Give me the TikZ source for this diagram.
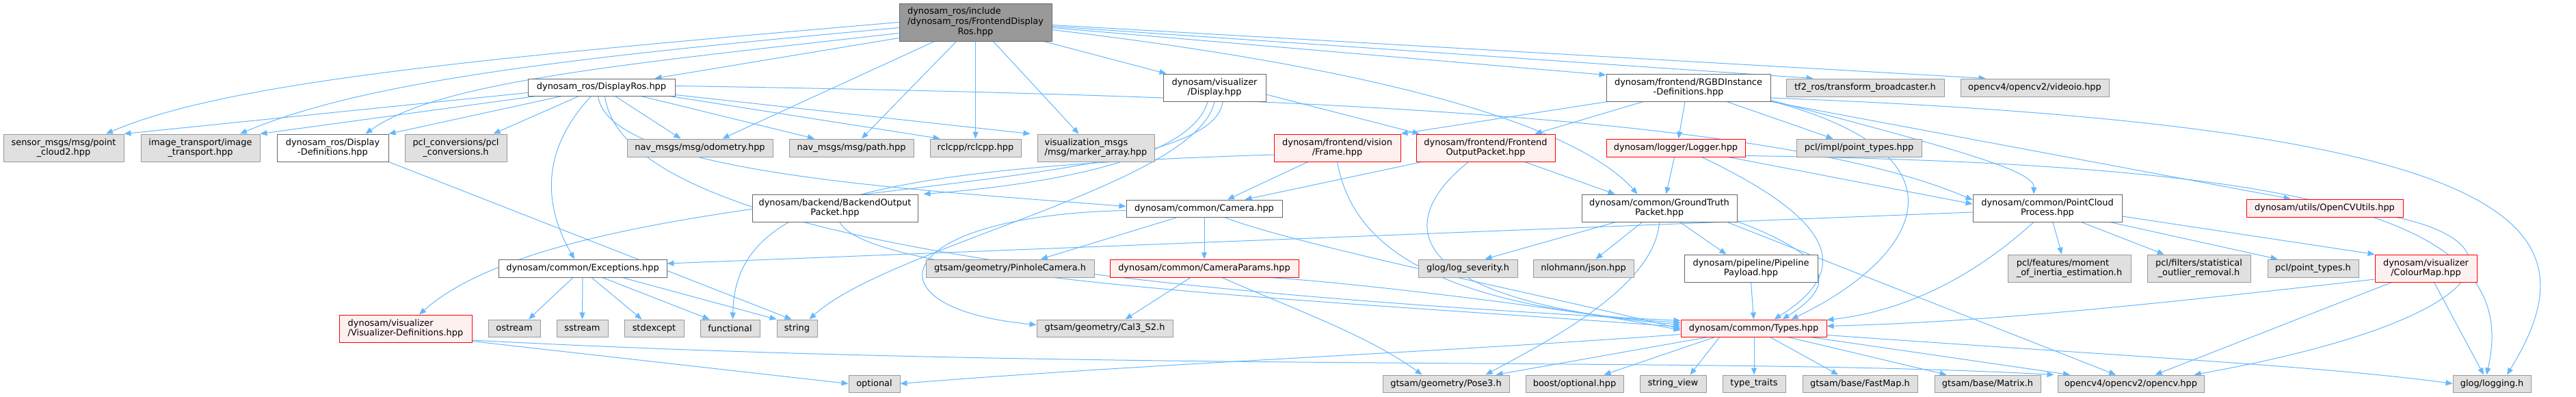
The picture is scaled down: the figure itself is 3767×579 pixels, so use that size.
\documentclass[tikz,border=0pt]{standalone}
\usepackage{fontspec}
\setmainfont{DejaVu Sans}
\usepackage{tikz}
\usetikzlibrary{arrows.meta,calc,backgrounds}
\definecolor{edgeblue}{HTML}{63B8FF}
\definecolor{sysfill}{HTML}{E0E0E0}
\definecolor{sysline}{HTML}{999999}
\definecolor{fileline}{HTML}{666666}
\definecolor{partfill}{HTML}{FFF0F0}
\definecolor{rootfill}{HTML}{999999}
\tikzset{
  filebox/.style={draw=fileline,fill=white,line width=0.75pt,inner sep=0pt,
    align=center,font=\fontsize{9.7}{11}\selectfont},
  sysbox/.style={filebox,draw=sysline,fill=sysfill},
  redbox/.style={filebox,draw=red,fill=partfill},
  topbox/.style={filebox,draw=fileline,fill=rootfill},
  sz/.style 2 args={minimum width=#1*0.75pt,minimum height=#2*0.75pt},
  dep/.style={draw=edgeblue,line width=0.75pt,-{Triangle[length=7.5pt,width=6pt]}}
}
\begin{document}
\begin{tikzpicture}[x=0.75pt,y=-0.75pt]
\useasboundingbox (0,0) rectangle (3767,579);
% row 1
\node[topbox,sz={223}{55}] (root) at (1426.5,32.5) {\begin{tabular}{@{}l@{}}dynosam\_ros/include\\/dynosam\_ros/FrontendDisplay\\\multicolumn{1}{@{}c@{}}{Ros.hpp}\end{tabular}};
% row 2
\node[filebox,sz={215}{25}] (dispros) at (879.5,127.5) {dynosam\_ros/DisplayRos.hpp};
\node[filebox,sz={150}{40}] (display) at (1776,128) {dynosam/visualizer\\/Display.hpp};
\node[filebox,sz={240}{40}] (rgbd) at (2469,128) {dynosam/frontend/RGBDInstance\\-Definitions.hpp};
\node[sysbox,sz={231}{26}] (tftwo) at (2727.5,128) {tf2\_ros/transform\_broadcaster.h};
\node[sysbox,sz={217}{26}] (videoio) at (2975.5,128) {opencv4/opencv2/videoio.hpp};
% row 3
\node[sysbox,sz={176}{40}] (sensor) at (93,216) {sensor\_msgs/msg/point\\\_cloud2.hpp};
\node[sysbox,sz={174}{40}] (imgtr) at (293,216) {image\_transport/image\\\_transport.hpp};
\node[filebox,sz={163}{40}] (dispdefs) at (486.5,216) {dynosam\_ros/Display\\-Definitions.hpp};
\node[sysbox,sz={149}{40}] (pclconv) at (666.5,216) {pcl\_conversions/pcl\\\_conversions.h};
\node[sysbox,sz={213}{26}] (odom) at (1023.5,216) {nav\_msgs/msg/odometry.hpp};
\node[sysbox,sz={182}{26}] (navpath) at (1245,216) {nav\_msgs/msg/path.hpp};
\node[sysbox,sz={133}{26}] (rclcpp) at (1426.5,216) {rclcpp/rclcpp.hpp};
\node[sysbox,sz={171}{40},align=left] (marker) at (1602.5,216) {visualization\_msgs\\/msg/marker\_array.hpp};
\node[redbox,sz={185}{40}] (frame) at (1955.5,216) {dynosam/frontend/vision\\/Frame.hpp};
\node[redbox,sz={203}{40}] (feout) at (2172.5,216) {dynosam/frontend/Frontend\\OutputPacket.hpp};
\node[redbox,sz={203}{26}] (logger) at (2450.5,216) {dynosam/logger/Logger.hpp};
\node[sysbox,sz={183}{26}] (pclimpl) at (2718.5,216) {pcl/impl/point\_types.hpp};
% row 4
\node[filebox,sz={242}{40}] (beout) at (1221,304) {dynosam/backend/BackendOutput\\Packet.hpp};
\node[filebox,sz={228}{25}] (camera) at (1761,304.5) {dynosam/common/Camera.hpp};
\node[filebox,sz={227}{40}] (gtpkt) at (2426.5,304) {dynosam/common/GroundTruth\\Packet.hpp};
\node[filebox,sz={218}{40}] (pcproc) at (2994,304) {dynosam/common/PointCloud\\Process.hpp};
\node[redbox,sz={229}{26}] (cvutils) at (3399.5,304) {dynosam/utils/OpenCVUtils.hpp};
% row 5
\node[filebox,sz={246}{26}] (except) at (852,392) {dynosam/common/Exceptions.hpp};
\node[sysbox,sz={246}{26}] (pinhole) at (1477,392) {gtsam/geometry/PinholeCamera.h};
\node[redbox,sz={276}{26}] (camparams) at (1761,392) {dynosam/common/CameraParams.hpp};
\node[sysbox,sz={145}{26}] (logsev) at (2146.5,392) {glog/log\_severity.h};
\node[sysbox,sz={147}{26}] (json) at (2315.5,392) {nlohmann/json.hpp};
\node[filebox,sz={195}{40}] (pipeline) at (2560.5,392) {dynosam/pipeline/Pipeline\\Payload.hpp};
\node[sysbox,sz={180}{40},align=left] (moment) at (3026,392) {pcl/features/moment\\\_of\_inertia\_estimation.h};
\node[sysbox,sz={151}{40}] (statrm) at (3215.5,392) {pcl/filters/statistical\\\_outlier\_removal.h};
\node[sysbox,sz={133}{26}] (pcltypes) at (3382.5,392) {pcl/point\_types.h};
\node[redbox,sz={149}{40}] (colourmap) at (3547.5,392) {dynosam/visualizer\\/ColourMap.hpp};
% row 6
\node[redbox,sz={194}{40},align=left] (visdefs) at (593,480) {dynosam/visualizer\\/Visualizer-Definitions.hpp};
\node[sysbox,sz={76}{25}] (ostream) at (752,479.5) {ostream};
\node[sysbox,sz={75}{25}] (sstream) at (851.5,479.5) {sstream};
\node[sysbox,sz={87}{25}] (stdexc) at (956.5,479.5) {stdexcept};
\node[sysbox,sz={87}{25}] (functional) at (1067.5,479.5) {functional};
\node[sysbox,sz={59}{25}] (string) at (1165.5,479.5) {string};
\node[sysbox,sz={199}{25}] (calthree) at (1615.5,479.5) {gtsam/geometry/Cal3\_S2.h};
\node[redbox,sz={213}{25}] (types) at (2564.5,479.5) {dynosam/common/Types.hpp};
% row 7
\node[sysbox,sz={75}{25}] (optional) at (1278.5,560.5) {optional};
\node[sysbox,sz={185}{25}] (posethree) at (2114.5,560.5) {gtsam/geometry/Pose3.h};
\node[sysbox,sz={143}{25}] (boostopt) at (2302.5,560.5) {boost/optional.hpp};
\node[sysbox,sz={97}{25}] (strview) at (2446.5,560.5) {string\_view};
\node[sysbox,sz={92}{25}] (typetr) at (2565,560.5) {type\_traits};
\node[sysbox,sz={168}{25}] (fastmap) at (2720,560.5) {gtsam/base/FastMap.h};
\node[sysbox,sz={155}{25}] (matrixh) at (2906.5,560.5) {gtsam/base/Matrix.h};
\node[sysbox,sz={214}{25}] (opencv) at (3116,560.5) {opencv4/opencv2/opencv.hpp};
\node[sysbox,sz={114}{25}] (glog) at (3644,560.5) {glog/logging.h};

\begin{pgfonlayer}{background}
\fill[white] (0,0) rectangle (3767,579);
% root
\draw[dep] (root.west) .. controls (700,85) and (330,120) .. ($(sensor.north)+(62,0)$);
\draw[dep] ($(root.west)+(0,8)$) .. controls (820,85) and (530,120) .. ($(imgtr.north)+(58,0)$);
\draw[dep] ($(root.west)+(0,16)$) .. controls (900,95) and (640,120) .. ($(dispdefs.north)+(48,0)$);
\draw[dep] ($(root.south west)+(0,-5)$) -- ($(dispros.north east)+(-30,0)$);
\draw[dep] ($(root.south)+(-60,0)$) -- ($(odom.north)+(33,0)$);
\draw[dep] ($(root.south)+(-28,0)$) -- ($(navpath.north)+(15,0)$);
\draw[dep] (root.south) -- (rclcpp.north);
\draw[dep] ($(root.south)+(26,0)$) -- ($(marker.north)+(-25,0)$);
\draw[dep] ($(root.south east)+(-12,0)$) -- ($(display.north west)+(5,0)$);
\draw[dep] ($(root.east)+(0,4)$) -- ($(videoio.north)+(-72,0)$);
\draw[dep] ($(root.east)+(0,6)$) -- ($(tftwo.north)+(-76,0)$);
\draw[dep] ($(root.east)+(0,8)$) -- ($(rgbd.north west)+(0,2)$);
\draw[dep] ($(root.east)+(0,11)$) .. controls (2100,110) and (2320,200) .. ($(gtpkt.north)+(-32,0)$);
% DisplayRos
\draw[dep] ($(dispros.west)+(0,8)$) -- (sensor.north east);
\draw[dep] ($(dispros.south west)+(12,0)$) -- (imgtr.north east);
\draw[dep] ($(dispros.south west)+(50,0)$) -- (dispdefs.north east);
\draw[dep] ($(dispros.south west)+(75,0)$) -- ($(pclconv.north)+(55,0)$);
\draw[dep] ($(dispros.south)+(-15,0)$) .. controls (790,220) and (795,300) .. ($(except.north)+(-12,0)$);
\draw[dep] ($(dispros.south)+(-5,0)$) .. controls (890,250) and (1300,275) .. ($(camera.west)+(0,-3)$);
\draw[dep] ($(dispros.south)+(5,0)$) .. controls (910,330) and (1500,420) .. ($(types.north west)+(0,2)$);
\draw[dep] ($(dispros.south)+(20,0)$) -- ($(odom.north)+(-28,0)$);
\draw[dep] ($(dispros.south east)+(-50,0)$) -- ($(navpath.north)+(-54,0)$);
\draw[dep] ($(dispros.south east)+(-8,0)$) -- ($(rclcpp.north west)+(15,0)$);
\draw[dep] ($(dispros.south east)+(0,-2)$) -- ($(marker.north west)+(-10,0)$);
\draw[dep] ($(dispros.east)+(0,-2)$) .. controls (1900,140) and (2600,170) .. ($(pcproc.west)+(0,-12)$);
% Display
\draw[dep] ($(display.east)+(0,10)$) -- ($(feout.north west)+(5,0)$);
\draw[dep] ($(display.south)+(-10,0)$) .. controls (1740,240) and (1500,272) .. ($(beout.north east)+(8,0)$);
\draw[dep] (display.south) .. controls (1750,270) and (1300,360) .. ($(string.north)+(18,0)$);
\draw[dep] ($(display.south)+(12,0)$) .. controls (1770,300) and (850,250) .. ($(visdefs.north)+(20,0)$);
% Frame
\draw[dep] ($(frame.south west)+(50,0)$) -- ($(camera.north)+(34,0)$);
\draw[dep] (frame.south) .. controls (1975,340) and (2060,445) .. ($(types.north west)+(0,5)$);
\draw[dep] ($(frame.west)+(0,10)$) .. controls (1250,245) and (1075,300) .. ($(functional.north)+(4,0)$);
% FrontendOutputPacket
\draw[dep] ($(feout.south west)+(9,0)$) -- ($(camera.north east)+(-55,0)$);
\draw[dep] ($(feout.south)+(-25,0)$) .. controls (2030,330) and (2060,440) .. ($(types.north west)+(0,8)$);
\draw[dep] ($(feout.south east)+(-45,0)$) -- ($(gtpkt.north)+(-65,0)$);
% RGBDInstance-Definitions
\draw[dep] ($(rgbd.south west)+(2,0)$) -- (frame.north east);
\draw[dep] ($(rgbd.south)+(-66,0)$) -- ($(feout.north east)+(-30,0)$);
\draw[dep] ($(rgbd.south)+(-5,0)$) -- ($(logger.north)+(4,0)$);
\draw[dep] ($(rgbd.south)+(56,0)$) -- ($(pclimpl.north)+(-38,0)$);
\draw[dep] ($(rgbd.south east)+(0,-2)$) .. controls (2870,220) and (2975,250) .. ($(pcproc.north)+(-20,0)$);
\draw[dep] ($(rgbd.south east)+(0,-1)$) .. controls (2900,230) and (2800,380) .. ($(types.north)+(55,0)$);
\draw[dep] (rgbd.south east) -- ($(cvutils.north)+(-50,0)$);
\draw[dep] ($(rgbd.east)+(0,15)$) .. controls (3700,185) and (3800,330) .. ($(glog.north)+(22,0)$);
% Logger
\draw[dep] ($(logger.south)+(-2,0)$) -- ($(gtpkt.north)+(10,0)$);
\draw[dep] ($(logger.south east)+(-25,0)$) -- ($(pcproc.west)+(0,-6)$);
\draw[dep] ($(logger.south east)+(0,-2)$) .. controls (3400,240) and (3690,320) .. ($(glog.north)+(-8,0)$);
\draw[dep] ($(logger.south)+(38,0)$) .. controls (2700,330) and (2700,400) .. ($(types.north)+(30,0)$);
% BackendOutputPacket
\draw[dep] ($(beout.south)+(7,0)$) .. controls (1270,410) and (1950,440) .. ($(types.north west)+(0,11)$);
% Camera
\draw[dep] ($(camera.south west)+(75,0)$) -- ($(pinhole.north)+(45,0)$);
\draw[dep] (camera.south) -- (camparams.north);
\draw[dep] ($(camera.south east)+(-85,0)$) .. controls (1900,360) and (2300,440) .. ($(types.north west)+(0,14)$);
\draw[dep] ($(camera.west)+(0,3)$) .. controls (1300,315) and (1260,450) .. ($(calthree.west)+(0,-5)$);
% CameraParams
\draw[dep] ($(camparams.south)+(-20,0)$) -- ($(calthree.north)+(30,0)$);
\draw[dep] ($(camparams.south)+(26,0)$) .. controls (1900,455) and (2000,490) .. ($(posethree.north)+(-35,0)$);
\draw[dep] ($(camparams.south east)+(-45,0)$) .. controls (1950,410) and (2300,450) .. ($(types.west)+(0,3)$);
% GroundTruthPacket
\draw[dep] ($(gtpkt.south west)+(50,0)$) -- ($(logsev.north)+(25,0)$);
\draw[dep] ($(gtpkt.south)+(-25,0)$) -- ($(json.north)+(18,0)$);
\draw[dep] (gtpkt.south) .. controls (2420,420) and (2260,500) .. ($(posethree.north)+(58,0)$);
\draw[dep] ($(gtpkt.south)+(30,0)$) -- ($(pipeline.north west)+(62,0)$);
\draw[dep] ($(gtpkt.south east)+(-15,0)$) -- ($(opencv.north)+(-22,0)$);
\draw[dep] ($(gtpkt.south east)+(0,-1)$) .. controls (2690,380) and (2680,420) .. ($(types.north)+(42,0)$);
% PipelinePayload
\draw[dep] (pipeline.south) -- (types.north);
% PointCloudProcess
\draw[dep] ($(pcproc.west)+(0,6)$) -- ($(except.east)+(0,-7)$);
\draw[dep] ($(pcproc.south)+(-20,0)$) .. controls (2880,410) and (2780,455) .. ($(types.north east)+(0,1)$);
\draw[dep] ($(pcproc.south)+(8,0)$) -- ($(moment.north)+(-11,0)$);
\draw[dep] ($(pcproc.south east)+(-60,0)$) -- ($(statrm.north west)+(25,0)$);
\draw[dep] ($(pcproc.south east)+(-18,0)$) -- ($(pcltypes.north west)+(15,0)$);
\draw[dep] ($(pcproc.east)+(0,12)$) -- (colourmap.north west);
% OpenCVUtils
\draw[dep] ($(cvutils.south east)+(-10,0)$) .. controls (3700,360) and (3640,470) .. ($(opencv.north east)+(-15,0)$);
% ColourMap
\draw[dep] ($(colourmap.west)+(0,16)$) .. controls (3100,450) and (2900,470) .. ($(types.east)+(0,-3)$);
\draw[dep] ($(colourmap.south west)+(25,0)$) -- ($(opencv.north east)+(-72,0)$);
\draw[dep] ($(colourmap.south)+(12,0)$) -- ($(glog.north)+(-12,0)$);
% Types
\draw[dep] ($(types.south west)+(0,-4)$) .. controls (2100,515) and (1700,530) .. (optional.east);
\draw[dep] ($(types.south west)+(40,0)$) -- ($(posethree.north east)+(-20,0)$);
\draw[dep] ($(types.south west)+(50,0)$) -- ($(boostopt.north)+(43,0)$);
\draw[dep] ($(types.south)+(-50,0)$) -- ($(strview.north)+(25,0)$);
\draw[dep] ($(types.south)+(0.5,0)$) -- (typetr.north);
\draw[dep] ($(types.south)+(24,0)$) -- ($(fastmap.north)+(-32,0)$);
\draw[dep] ($(types.south)+(50,0)$) -- ($(matrixh.north)+(-60,0)$);
\draw[dep] ($(types.south east)+(-24,0)$) -- ($(opencv.north)+(-89,0)$);
\draw[dep] ($(types.east)+(0,10)$) .. controls (3100,520) and (3400,535) .. (glog.west);
% Visualizer-Definitions
\draw[dep] ($(visdefs.south east)+(0,-2)$) -- (optional.west);
\draw[dep] ($(visdefs.east)+(0,17)$) .. controls (1600,545) and (2500,520) .. ($(opencv.north west)+(-5,0)$);
% Exceptions
\draw[dep] ($(except.south)+(-14,0)$) -- ($(ostream.north)+(21,0)$);
\draw[dep] (except.south) -- (sstream.north);
\draw[dep] ($(except.south)+(13,0)$) -- ($(stdexc.north)+(-18,0)$);
\draw[dep] ($(except.south)+(29,0)$) -- ($(functional.north)+(-30,0)$);
\draw[dep] ($(except.south)+(58,0)$) -- (string.north west);
% Display-Definitions
\draw[dep] (dispdefs.south east) -- ($(string.north)+(-8,0)$);
\end{pgfonlayer}
\end{tikzpicture}
\end{document}
